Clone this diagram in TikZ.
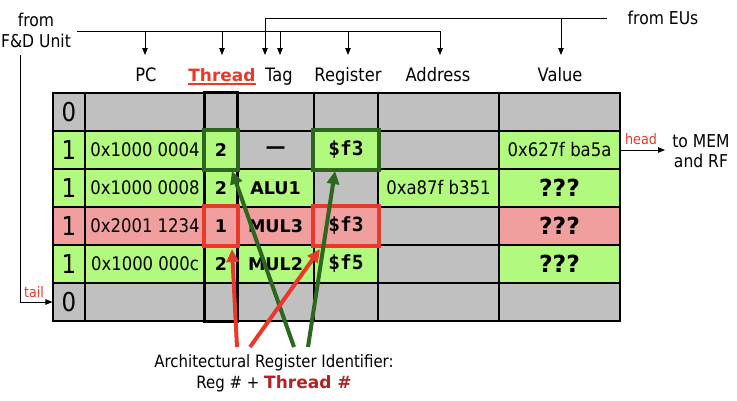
\documentclass[tikz,border=0pt]{standalone}
\usepackage{fontspec}
\setmainfont{DejaVu Sans}
\setmonofont{DejaVu Sans Mono}
\newfontfamily\tfont{DejaVu Sans}[FakeStretch=0.88]
\usetikzlibrary{arrows.meta,calc}
\definecolor{cgray}{RGB}{192,192,192}
\definecolor{cgreen}{RGB}{178,250,125}
\definecolor{cpink}{RGB}{240,158,158}
\definecolor{dgreen}{RGB}{45,102,30}
\definecolor{cred}{RGB}{232,57,42}
\definecolor{tdred}{RGB}{178,34,34}
\begin{document}
\begin{tikzpicture}[x=1pt,y=-1pt,
  cell/.style={draw=black, line width=1.2pt, minimum height=38pt, inner sep=0pt, font=\tfont\fontsize{18.7}{22}\selectfont},
  wa/.style={minimum width=32pt},
  wb/.style={minimum width=120pt},
  wc/.style={minimum width=32pt},
  wd/.style={minimum width=77pt},
  we/.style={minimum width=64pt},
  wf/.style={minimum width=121pt},
  wg/.style={minimum width=121pt},
  G/.style={fill=cgray},
  L/.style={fill=cgreen},
  P/.style={fill=cpink},
  vfont/.style={font=\tfont\fontsize{26}{30}\selectfont},
  bfont/.style={font=\fontsize{17.5}{20}\selectfont\bfseries},
  mfont/.style={font=\fontsize{19.5}{22}\selectfont\ttfamily\bfseries},
  qfont/.style={font=\fontsize{23.5}{26}\selectfont\bfseries},
  hdr/.style={anchor=base, inner sep=0pt, font=\tfont\fontsize{18.5}{22}\selectfont},
  lab/.style={align=center, inner sep=0pt, font=\tfont\fontsize{17.7}{21}\selectfont},
  small/.style={text=cred, inner sep=0pt, font=\tfont\fontsize{14.5}{16}\selectfont},
  feed/.style={line width=0.8pt, -{Triangle[length=7pt,width=5.5pt]}},
  hl/.style={line width=4pt},
  ptr/.style={line width=4pt, -{Triangle[length=13pt,width=12pt]}},
]
\useasboundingbox (0,0) rectangle (737,400);

% ---- rows ----
% row 0
\node[cell,wa,G,vfont] (c01) at (69,112) {0};
\node[cell,wb,G] (c02) at (145,112) {};
\node[cell,wc,G] (c03) at (221,112) {};
\node[cell,wd,G] (c04) at (275.5,112) {};
\node[cell,we,G] (c05) at (346,112) {};
\node[cell,wf,G] (c06) at (438.5,112) {};
\node[cell,wg,G] (c07) at (559.5,112) {};
% row 1
\node[cell,wa,L,vfont] (c11) at (69,150) {1};
\node[cell,wb,L] (c12) at (145,150) {0x1000 0004};
\node[cell,wc,L,bfont] (c13) at (221,150) {2};
\node[cell,wd,G,font=\fontsize{20}{22}\selectfont\bfseries] (c14) at (275.5,150) {\raisebox{-3.5pt}{—}};
\node[cell,we,L,mfont] (c15) at (346,150) {\$f3};
\node[cell,wf,G] (c16) at (438.5,150) {};
\node[cell,wg,L] (c17) at (559.5,150) {0x627f ba5a};
% row 2
\node[cell,wa,L,vfont] (c21) at (69,188) {1};
\node[cell,wb,L] (c22) at (145,188) {0x1000 0008};
\node[cell,wc,L,bfont] (c23) at (221,188) {2};
\node[cell,wd,L,bfont] (c24) at (275.5,188) {ALU1};
\node[cell,we,G] (c25) at (346,188) {};
\node[cell,wf,L] (c26) at (438.5,188) {0xa87f b351};
\node[cell,wg,L,qfont] (c27) at (559.5,188) {???};
% row 3
\node[cell,wa,P,vfont] (c31) at (69,226) {1};
\node[cell,wb,P] (c32) at (145,226) {0x2001 1234};
\node[cell,wc,P,bfont] (c33) at (221,226) {1};
\node[cell,wd,P,bfont] (c34) at (275.5,226) {MUL3};
\node[cell,we,P,mfont] (c35) at (346,226) {\$f3};
\node[cell,wf,G] (c36) at (438.5,226) {};
\node[cell,wg,P,qfont] (c37) at (559.5,226) {???};
% row 4
\node[cell,wa,L,vfont] (c41) at (69,264) {1};
\node[cell,wb,L] (c42) at (145,264) {0x1000 000c};
\node[cell,wc,L,bfont] (c43) at (221,264) {2};
\node[cell,wd,L,bfont] (c44) at (275.5,264) {MUL2};
\node[cell,we,L,mfont] (c45) at (346,264) {\$f5};
\node[cell,wf,G] (c46) at (438.5,264) {};
\node[cell,wg,L,qfont] (c47) at (559.5,264) {???};
% row 5
\node[cell,wa,G,vfont] (c51) at (69,302) {0};
\node[cell,wb,G] (c52) at (145,302) {};
\node[cell,wc,G] (c53) at (221,302) {};
\node[cell,wd,G] (c54) at (275.5,302) {};
\node[cell,we,G] (c55) at (346,302) {};
\node[cell,wf,G] (c56) at (438.5,302) {};
\node[cell,wg,G] (c57) at (559.5,302) {};

% thread column outline
\draw[line width=2.2pt] (c03.north west) rectangle (c53.south east);

% highlight boxes
\draw[hl,dgreen] (c13.north west) rectangle (c13.south east);
\draw[hl,dgreen] (c15.north west) rectangle (c15.south east);
\draw[hl,cred] (c33.north west) rectangle (c33.south east);
\draw[hl,cred] (c35.north west) rectangle (c35.south east);

% ---- headers ----
\node[hdr] (hpc) at (146,81) {PC};
\node[hdr,font=\fontsize{17}{19}\selectfont\bfseries,text=cred] (hth) at (222,81) {Thread};
\draw[cred,line width=1.8pt] ($(hth.base west)+(0,2.8)$) -- ($(hth.base east)+(0,2.8)$);
\node[hdr] (htag) at (279,81) {Tag};
\node[hdr] (hreg) at (348,81) {Register};
\node[hdr] (hadr) at (438,81) {Address};
\node[hdr] (hval) at (560,81) {Value};

% ---- F&D feed ----
\node[lab] (fd) at (36,30) {from\\F\&D Unit};
\coordinate (fdl) at (77,31);
\coordinate (fdr) at (440,31);
\coordinate (tpc) at (145,55);
\coordinate (tth) at (222,55);
\coordinate (ttagfd) at (280,55);
\coordinate (treg) at (348,55);
\coordinate (tadr) at (440,55);
\draw[line width=0.8pt] (fdl) -- (fdr);
\draw[feed] (tpc |- fdl) -- (tpc);
\draw[feed] (tth |- fdl) -- (tth);
\draw[feed] (ttagfd |- fdl) -- (ttagfd);
\draw[feed] (treg |- fdl) -- (treg);
\draw[feed] (fdr) -- (tadr);

% ---- EU feed ----
\node[lab] (eu) at (663,18) {from EUs};
\coordinate (eur) at (607,18);
\coordinate (eul) at (265,18);
\coordinate (ttageu) at (265,55);
\coordinate (tval) at (561,55);
\draw[line width=0.8pt] (eur) -- (eul);
\draw[feed] (eul) -- (ttageu);
\draw[feed] (tval |- eur) -- (tval);

% ---- tail ----
\coordinate (fdv) at (20,55);
\draw[feed] (fdv) -- (fdv |- c51.west) -- (c51.west);
\node[small] (tail) at (34,292) {tail};

% ---- head ----
\coordinate (hend) at (665,150);
\draw[feed] (c17.east) -- (hend);
\node[small] (head) at (641,139) {head};
\node[lab,font=\tfont\fontsize{17.7}{20}\selectfont] (mem) at (701,151) {to MEM\\and RF};

% ---- identifier label and pointers ----
\node[lab,font=\tfont\fontsize{17}{21}\selectfont] (lbl) at (274,373) {Architectural Register Identifier:\\Reg \# + \textcolor{tdred}{\normalfont\fontsize{17}{21}\selectfont\bfseries Thread \#}};
\coordinate (sg1) at (294,347);
\coordinate (sg2) at (308,347);
\coordinate (sr1) at (237,347);
\coordinate (sr2) at (250,347);
\coordinate (eg1) at (232,171);
\coordinate (eg2) at (335,171);
\coordinate (er1) at (232,249);
\coordinate (er2) at (320,249);
\draw[ptr,dgreen] (sg1) -- (eg1);
\draw[ptr,dgreen] (sg2) -- (eg2);
\draw[ptr,cred] (sr1) -- (er1);
\draw[ptr,cred] (sr2) -- (er2);
\end{tikzpicture}
\end{document}
